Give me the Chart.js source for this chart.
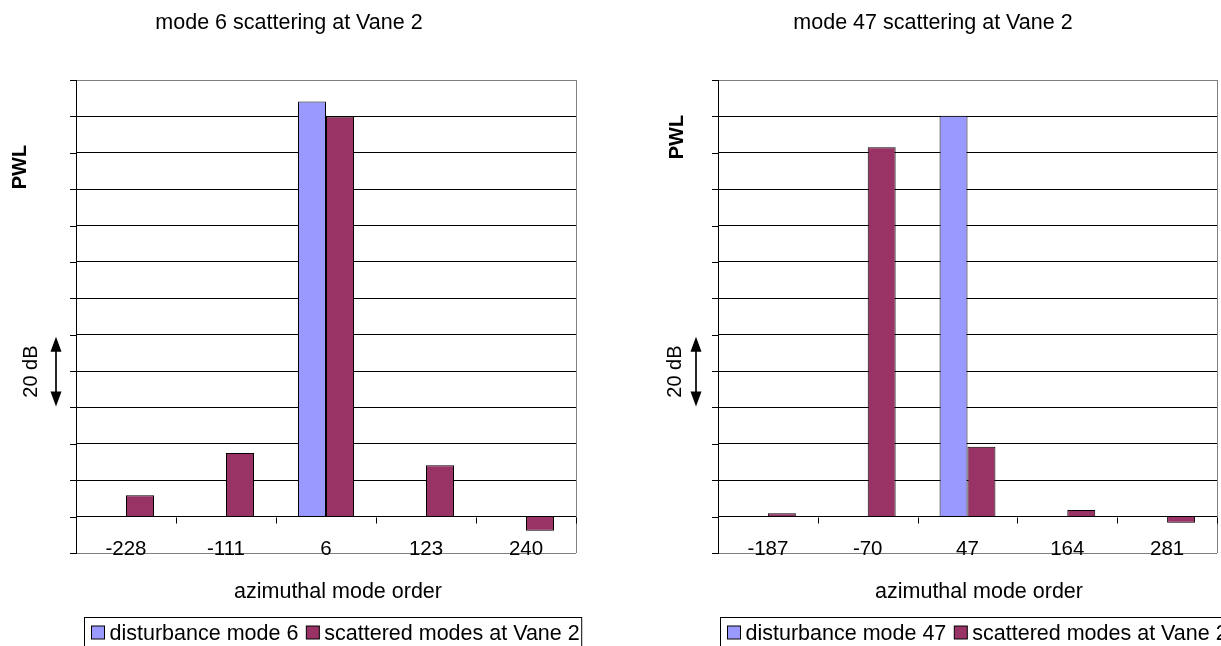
<!DOCTYPE html>
<html>
<head>
<meta charset="utf-8">
<script src="https://cdn.jsdelivr.net/npm/chart.js@4.4.0/dist/chart.umd.min.js"></script>
<style>
body { margin:0; background:#fff; width:1221px; height:646px; overflow:hidden; position:relative; }
canvas { position:absolute; top:0; }
#left { left:0; }
#right { left:610px; }
</style>
</head>
<body>
<canvas id="left" width="610" height="646"></canvas>
<canvas id="right" width="611" height="646"></canvas>
<script>
// mode 6 chart
var modes6 = ['-228', '-111', '6', '123', '240'];
var disturbance6 = [null, null, 114.1, null, null];
var scattered6 = [5.9, 17.5, 110, 14.1, -3.9];

// mode 47 chart
var modes47 = ['-187', '-70', '47', '164', '281'];
var disturbance47 = [null, null, 110.2, null, null];
var scattered47 = [0.9, 101.5, 19.2, 1.8, -1.7];

// y axis in dB, one gridline every 10 dB (no tick labels in the original)
var yMin = -10, yMax = 120, yStep = 10;

var FONT = "'Liberation Sans', Arial, sans-serif";
var BLUE = '#9999ff', RED = '#993366';

// draws the excel-ish bits: frame, tick marks, category labels, titles, legend box, 20 dB arrow
var excelLook = {
  id: 'excelLook',
  afterDraw: function(chart, args, o) {
    var ctx = chart.ctx, a = chart.chartArea;
    var xs = chart.scales.x, ys = chart.scales.y;
    var labels = chart.data.labels;
    var zero = Math.round(ys.getPixelForValue(0)) + 0.5;
    ctx.save();

    // grey right border
    ctx.strokeStyle = '#808080';
    ctx.lineWidth = 1;
    ctx.beginPath();
    ctx.moveTo(Math.round(a.right) + 0.5, a.top);
    ctx.lineTo(Math.round(a.right) + 0.5, a.bottom);
    ctx.stroke();

    // y tick marks left of axis
    ctx.strokeStyle = '#000';
    ctx.beginPath();
    ys.ticks.forEach(function(t) {
      var p = Math.round(ys.getPixelForValue(t.value)) + 0.5;
      ctx.moveTo(a.left - 6, p);
      ctx.lineTo(a.left, p);
    });
    // category tick marks on the zero line
    var w = xs.getPixelForValue(1) - xs.getPixelForValue(0);
    for (var i = 0; i < labels.length; i++) {
      var bx = Math.round(xs.getPixelForValue(i) + w / 2) + 0.5;
      ctx.moveTo(bx, zero);
      ctx.lineTo(bx, zero + 6);
    }
    ctx.stroke();

    // category labels sit at the bottom of the plot
    ctx.fillStyle = '#000';
    ctx.font = '20.5px ' + FONT;
    ctx.textAlign = 'center';
    ctx.textBaseline = 'alphabetic';
    labels.forEach(function(l, i) {
      ctx.fillText(l, xs.getPixelForValue(i), a.bottom + 2);
    });

    // titles
    ctx.font = '21.5px ' + FONT;
    ctx.fillText(o.title, o.titleX, 29);
    ctx.fillText('azimuthal mode order', o.axisX, 598);

    // PWL
    ctx.textBaseline = 'middle';
    ctx.save();
    ctx.translate(o.pwlX, o.pwlY);
    ctx.rotate(-Math.PI / 2);
    ctx.font = 'bold 20px ' + FONT;
    ctx.fillText('PWL', 0, 0);
    ctx.restore();

    // 20 dB arrow
    var y1 = ys.getPixelForValue(50) + 2, y2 = ys.getPixelForValue(30) - 1;
    ctx.save();
    ctx.translate(o.dbX, (y1 + y2) / 2);
    ctx.rotate(-Math.PI / 2);
    ctx.font = '20px ' + FONT;
    ctx.fillText('20 dB', 0, 0);
    ctx.restore();
    ctx.strokeStyle = '#000';
    ctx.lineWidth = 1.7;
    ctx.beginPath();
    ctx.moveTo(o.arrowX, y1 + 10);
    ctx.lineTo(o.arrowX, y2 - 10);
    ctx.stroke();
    ctx.beginPath();
    ctx.moveTo(o.arrowX, y1); ctx.lineTo(o.arrowX - 5.5, y1 + 15); ctx.lineTo(o.arrowX + 5.5, y1 + 15); ctx.closePath();
    ctx.moveTo(o.arrowX, y2); ctx.lineTo(o.arrowX - 5.5, y2 - 15); ctx.lineTo(o.arrowX + 5.5, y2 - 15); ctx.closePath();
    ctx.fill();

    // legend box
    ctx.font = '21.5px ' + FONT;
    ctx.textAlign = 'left';
    ctx.textBaseline = 'alphabetic';
    var items = chart.data.datasets;
    var sq = 13;
    var total = 2;
    items.forEach(function(d, k) { total += (k ? 8 : 7) + sq + 5 + ctx.measureText(d.label).width; });
    var lx = o.legendX + 0.5, ly = 617.5;
    ctx.lineWidth = 1;
    ctx.strokeStyle = '#000';
    ctx.strokeRect(lx, ly, total, 34);
    var cx = lx;
    items.forEach(function(d, k) {
      cx += k ? 8 : 7;
      ctx.fillStyle = d.backgroundColor;
      ctx.fillRect(cx, 626, sq, sq);
      ctx.strokeRect(cx, 626, sq, sq);
      cx += sq + 5;
      ctx.fillStyle = '#000';
      ctx.fillText(d.label, cx, 640);
      cx += ctx.measureText(d.label).width;
    });
    ctx.restore();
  }
};

function makeChart(id, labels, dist, scat, distLabel, pad, deco) {
  return new Chart(document.getElementById(id), {
    type: 'bar',
    data: {
      labels: labels,
      datasets: [
        { label: distLabel, data: dist, backgroundColor: BLUE, borderColor: '#000', borderWidth: 1 },
        { label: 'scattered modes at Vane 2', data: scat, backgroundColor: RED, borderColor: '#000', borderWidth: 1 }
      ]
    },
    options: {
      responsive: false,
      animation: false,
      layout: { padding: pad },
      datasets: { bar: { categoryPercentage: 0.56, barPercentage: 1 } },
      plugins: {
        legend: { display: false },
        tooltip: { enabled: false },
        excelLook: deco
      },
      scales: {
        x: { display: false },
        y: {
          min: yMin, max: yMax,
          ticks: { display: false, stepSize: yStep },
          border: { display: true, color: '#000', width: 1 },
          grid: {
            drawTicks: false,
            lineWidth: 1,
            color: function(c) {
              return (c.tick && (c.tick.value === yMax || c.tick.value === yMin)) ? '#808080' : '#000';
            }
          }
        }
      }
    },
    plugins: [excelLook]
  });
}

makeChart('left', modes6, disturbance6, scattered6, 'disturbance mode 6',
  { left: 76, right: 34, top: 80, bottom: 93 },
  { title: 'mode 6 scattering at Vane 2', titleX: 289, axisX: 338, legendX: 84, pwlX: 20, pwlY: 167, dbX: 31, arrowX: 56 });

makeChart('right', modes47, disturbance47, scattered47, 'disturbance mode 47',
  { left: 108, right: 4, top: 80, bottom: 93 },
  { title: 'mode 47 scattering at Vane 2', titleX: 323, axisX: 369, legendX: 110, pwlX: 67, pwlY: 137, dbX: 65, arrowX: 86 });
</script>
</body>
</html>
